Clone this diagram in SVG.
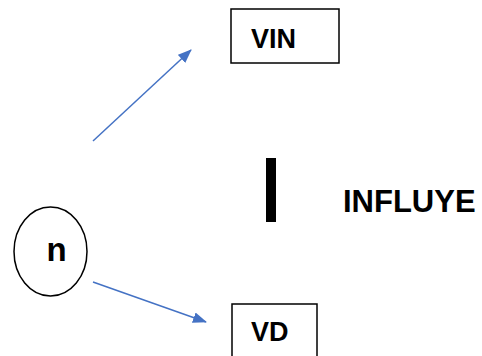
<svg xmlns="http://www.w3.org/2000/svg" width="482" height="356" viewBox="0 0 482 356">
<style>
.lbl{font-family:"Liberation Sans",Arial,sans-serif;font-weight:bold;fill:#000}
.box{fill:#fff;stroke:#000;stroke-width:1.5}
.conn{stroke:#4472C4;stroke-width:1.5;fill:none}
</style>
<defs>
<marker id="ah" markerWidth="14" markerHeight="11" refX="13" refY="5.5" orient="auto" markerUnits="userSpaceOnUse" viewBox="0 0 14 11">
<path d="M0,0 L14,5.5 L0,11 Z" fill="#4472C4"/>
</marker>
</defs>
<rect width="482" height="356" fill="#fff"/>
<g id="connectors">
<line class="conn" x1="93" y1="141" x2="191" y2="50" marker-end="url(#ah)"/>
<line class="conn" x1="93" y1="282" x2="206" y2="322" marker-end="url(#ah)"/>
</g>
<g id="node-n">
<ellipse class="box" cx="50.5" cy="251.5" rx="36.5" ry="44.5"/>
<text class="lbl" x="56.5" y="261" font-size="33" text-anchor="middle">n</text>
</g>
<g id="node-vin">
<rect class="box" x="231" y="9" width="108" height="54"/>
<text class="lbl" x="251" y="48" font-size="27">VIN</text>
</g>
<g id="node-vd">
<rect class="box" x="232" y="304" width="85" height="60"/>
<text class="lbl" x="251" y="341" font-size="27">VD</text>
</g>
<g id="influye">
<rect x="266" y="158" width="10" height="64" fill="#000"/>
<text class="lbl" x="343" y="212" font-size="31">INFLUYE</text>
</g>
</svg>
